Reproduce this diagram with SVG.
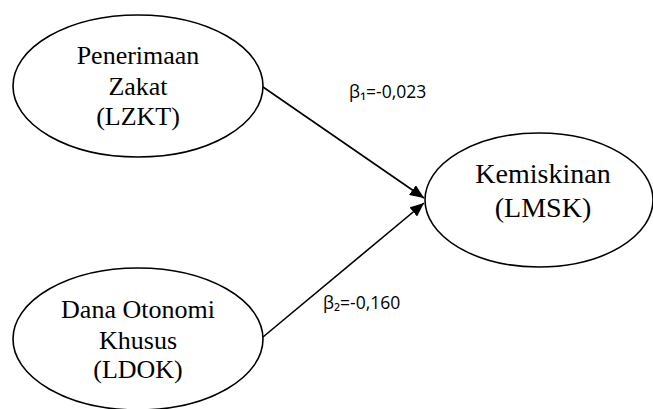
<svg xmlns="http://www.w3.org/2000/svg" width="653" height="409" viewBox="0 0 653 409">
<style>
.node{fill:#fff;stroke:#000;stroke-width:1.6}
.t{font-family:"Liberation Serif","Times New Roman",serif;font-size:26px;fill:#000;text-anchor:middle}
.tr{font-size:28px}
.lbl{font-family:"Open Sans","Liberation Sans",sans-serif;font-size:17.5px;fill:#000}
.edge{stroke:#000;stroke-width:1.6;fill:none}
</style>
<defs>
<marker id="ah" viewBox="0 0 10 10" refX="10" refY="5" markerWidth="14" markerHeight="12" markerUnits="userSpaceOnUse" orient="auto" preserveAspectRatio="none">
<path d="M0,0 L10,5 L0,10 z" fill="#000"/>
</marker>
</defs>
<g id="connectors">
<line class="edge" x1="263" y1="87" x2="424" y2="198" marker-end="url(#ah)"/>
<line class="edge" x1="263" y1="337" x2="424" y2="203" marker-end="url(#ah)"/>
</g>
<g id="node-lzkt">
<ellipse class="node" cx="138" cy="86" rx="125" ry="71"/>
<text class="t" x="138" y="64">Penerimaan</text>
<text class="t" x="138" y="95">Zakat</text>
<text class="t" x="138" y="125">(LZKT)</text>
</g>
<g id="node-ldok">
<ellipse class="node" cx="138" cy="339" rx="125" ry="71"/>
<text class="t" x="138" y="318">Dana Otonomi</text>
<text class="t" x="138" y="349">Khusus</text>
<text class="t" x="138" y="378">(LDOK)</text>
</g>
<g id="node-lmsk">
<ellipse class="node" cx="539" cy="200" rx="114" ry="67"/>
<text class="t tr" x="543" y="183">Kemiskinan</text>
<text class="t tr" x="543" y="217">(LMSK)</text>
</g>
<g id="labels">
<text class="lbl" x="349" y="98">β₁=-0,023</text>
<text class="lbl" x="323" y="309">β₂=-0,160</text>
</g>
</svg>
